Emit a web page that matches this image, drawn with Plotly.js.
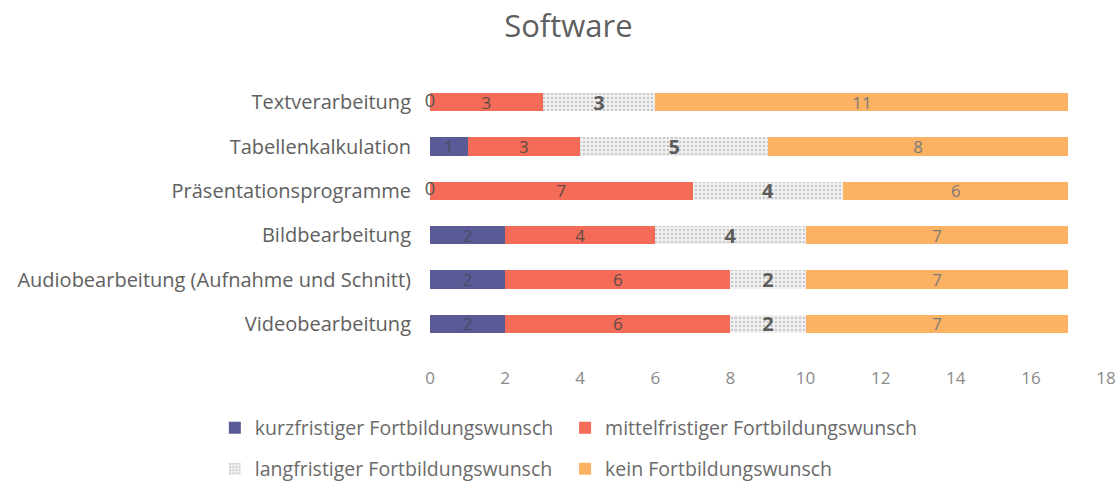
<!DOCTYPE html>
<html><head><meta charset="utf-8">
<script src="https://cdn.plot.ly/plotly-3.0.1.min.js"></script>
<style>html,body{margin:0;padding:0;background:#fff}#chart{width:1119px;height:481px}</style>
</head><body><div id="chart"></div>
<script>
const categories = ["Textverarbeitung","Tabellenkalkulation","Präsentationsprogramme","Bildbearbeitung","Audiobearbeitung (Aufnahme und Schnitt)","Videobearbeitung"];
const seriesNames = ["kurzfristiger Fortbildungswunsch","mittelfristiger Fortbildungswunsch","langfristiger Fortbildungswunsch","kein Fortbildungswunsch"];
const kurz = [0,1,0,2,2,2];
const mittel = [3,3,7,4,6,6];
const lang = [3,5,4,4,2,2];
const kein = [11,8,6,7,7,7];
const xTicks = [0,2,4,6,8,10,12,14,16,18];

const series = [kurz, mittel, lang, kein];
const colors = ["#5a5b96","#f46b58","#ececec","#fbb262"];
const textFonts = [
  {family:"Open Sans", size:17, color:"#4a4c66"},
  {family:"Open Sans", size:17, color:"#5a4a44"},
  {family:"Open Sans", size:20, color:"#5c5c5c", weight:"bold"},
  {family:"Open Sans", size:17, color:"#7a7a7a"}
];
const legendIds = ["legend","legend2","legend3","legend4"];

const traces = series.map((vals, i) => {
  const t = {
    type:"bar", orientation:"h", name: seriesNames[i],
    x: vals, y: categories,
    marker:{color: colors[i], line:{width:0}},
    text: vals.map(v => v === 0 ? "" : String(v)),
    textposition:"inside", insidetextanchor:"middle", textangle:0,
    textfont: textFonts[i], constraintext:"none",
    legend: legendIds[i], hoverinfo:"skip"
  };
  if (i === 2) {
    t.marker.pattern = {shape:".", bgcolor:"#f2f2f2", fgcolor:"#c9c9c9", size:4, solidity:0.35, fillmode:"replace"};
  }
  return t;
});

// labels for zero-valued segments, placed at their cumulative start
const zx = [], zy = [], zt = [];
categories.forEach((c, j) => {
  let cum = 0;
  series.forEach(vals => {
    if (vals[j] === 0) { zx.push(cum); zy.push(c); zt.push("0"); }
    cum += vals[j];
  });
});
traces.push({type:"scatter", mode:"text", x:zx, y:zy, text:zt, textposition:"middle center",
  textfont:{family:"Open Sans", size:18, color:"#555"}, showlegend:false, hoverinfo:"skip", cliponaxis:false});

const legFont = {family:"Open Sans", size:19.5, color:"#6a6a6a"};
function leg(x, y) {
  return {orientation:"h", x:x, xref:"container", xanchor:"left", y:y, yref:"container", yanchor:"middle",
    font:legFont, bgcolor:"rgba(0,0,0,0)"};
}

const layout = {
  width:1119, height:481,
  paper_bgcolor:"#fff", plot_bgcolor:"#fff",
  margin:{l:430, r:13, t:80, b:135},
  barmode:"stack", bargap:0.59,
  title:{text:"Software", x:0.508, xref:"container", xanchor:"center", y:0.945, yref:"container", yanchor:"middle",
    font:{family:"Open Sans", size:31, color:"#5f5f5f"}},
  xaxis:{range:[0,18], tickvals:xTicks, ticktext:xTicks.map(String), showgrid:false, zeroline:false, showline:false,
    ticks:"", tickfont:{family:"Open Sans", size:17, color:"#8a8a8a"}, ticklabelstandoff:20, fixedrange:true},
  yaxis:{autorange:"reversed", showgrid:false, zeroline:false, showline:false, ticks:"",
    tickfont:{family:"Open Sans", size:20, color:"#606060"}, ticklabelstandoff:18, fixedrange:true},
  showlegend:true,
  legend: leg(0.192, 0.11),
  legend2: leg(0.505, 0.11),
  legend3: leg(0.192, 0.025),
  legend4: leg(0.505, 0.025)
};

Plotly.newPlot("chart", traces, layout, {staticPlot:true, displayModeBar:false});
</script>
</body></html>
